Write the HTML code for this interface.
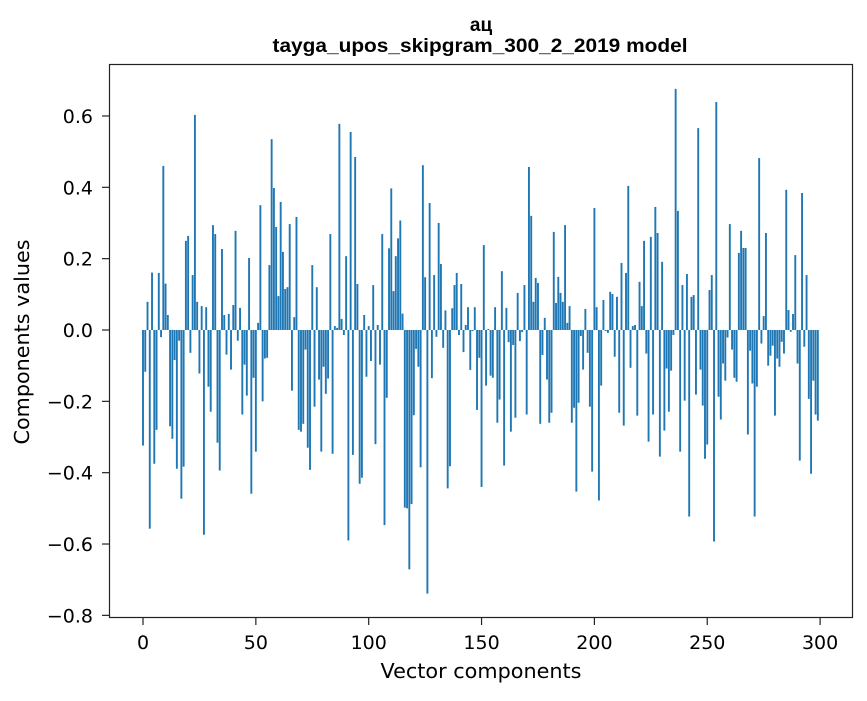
<!DOCTYPE html>
<html><head><meta charset="utf-8"><style>
body{margin:0;background:#fff;}
svg text{font-family:"DejaVu Sans","Liberation Sans",sans-serif;fill:#000;}
svg text.title{font-family:"Liberation Sans","Noto Sans CJK SC",sans-serif;}
</style></head><body>
<svg id="chart" width="867" height="696" xmlns="http://www.w3.org/2000/svg">
<rect width="867" height="696" fill="#fff"/>
<text class="title" x="481" y="31" text-anchor="middle" font-size="19" font-weight="bold">ац</text>
<text class="title" x="480" y="52" text-anchor="middle" font-size="19" font-weight="bold" textLength="415" lengthAdjust="spacingAndGlyphs">tayga_upos_skipgram_300_2_2019 model</text>
<g id="bars"></g>
<rect x="109.5" y="64.5" width="743" height="553" fill="none" stroke="#222" stroke-width="1.2"/>
<g id="xticks"></g>
<g id="yticks"></g>
<text x="481" y="678" text-anchor="middle" font-size="20.5" textLength="201" lengthAdjust="spacingAndGlyphs">Vector components</text>
<text transform="translate(29,342) rotate(-90)" text-anchor="middle" font-size="20.5" textLength="205" lengthAdjust="spacingAndGlyphs">Components values</text>
</svg>
<script>
const values = [
-0.324,-0.117,0.079,-0.557,0.161,-0.375,-0.28,0.16,-0.02,0.46,
0.13,0.042,-0.27,-0.305,-0.084,-0.389,-0.03,-0.473,-0.383,0.25,
0.264,-0.064,0.154,0.603,0.079,-0.122,0.067,-0.574,0.064,-0.159,
-0.229,0.294,0.269,-0.316,-0.394,0.227,0.042,-0.069,0.045,-0.111,
0.07,0.278,-0.03,0.062,-0.237,-0.097,-0.184,0.202,-0.459,-0.134,
-0.341,0.02,0.35,-0.2,-0.08,-0.078,0.182,0.535,0.398,0.289,
0.095,0.359,0.219,0.115,0.12,0.297,-0.17,0.036,0.317,-0.28,
-0.285,-0.263,-0.055,-0.33,-0.392,0.182,-0.215,0.12,-0.139,-0.341,
-0.103,-0.179,-0.136,0.269,-0.347,0.011,0.006,0.578,0.031,-0.014,
0.207,-0.59,0.555,-0.35,0.485,0.129,-0.431,-0.414,0.042,-0.131,
0.011,-0.087,0.126,-0.32,0.014,-0.097,0.269,-0.547,-0.19,0.229,
0.397,0.109,0.207,0.257,0.307,0.046,-0.498,-0.5,-0.671,-0.488,
-0.239,-0.053,-0.103,-0.385,0.462,0.148,-0.739,0.356,-0.135,0.154,
-0.019,0.3,0.185,-0.05,0.055,-0.444,-0.382,0.061,0.126,0.16,
-0.014,0.129,-0.062,0.014,0.064,-0.112,-0.003,0.064,-0.224,-0.078,
-0.44,0.238,-0.156,0.003,-0.128,-0.134,0.064,-0.26,-0.195,0.165,
-0.38,0.062,-0.034,-0.285,-0.042,-0.246,0.104,-0.031,-0.006,0.126,
-0.237,0.457,0.32,0.079,0.146,0.132,-0.263,-0.07,0.034,-0.139,
-0.26,-0.232,0.275,0.076,0.149,0.104,0.079,0.294,0.02,0.067,
-0.26,-0.218,-0.453,-0.204,-0.017,-0.111,0.059,-0.064,-0.215,-0.397,
0.342,0.064,-0.478,-0.156,0.084,-0.003,-0.008,0.107,0.101,-0.075,
0.093,-0.232,0.188,-0.268,0.16,0.404,-0.106,0.011,0.014,-0.24,
0.135,0.067,0.25,-0.066,-0.313,0.261,-0.237,0.345,0.272,-0.355,
0.191,-0.282,-0.108,-0.229,-0.114,-0.014,0.676,0.334,-0.341,0.126,
-0.198,0.157,-0.523,0.093,0.098,-0.181,0.566,-0.111,-0.212,-0.361,
-0.321,0.112,0.154,-0.593,0.639,-0.187,-0.251,-0.094,-0.142,-0.021,
0.297,-0.055,-0.134,-0.145,0.216,0.278,0.23,0.23,-0.293,-0.058,
-0.15,-0.523,-0.159,0.482,-0.038,0.039,0.272,-0.1,-0.072,-0.044,
-0.24,-0.08,-0.103,-0.033,-0.066,0.393,0.056,-0.005,0.045,0.21,
-0.094,-0.366,0.384,-0.047,0.154,-0.193,-0.403,-0.142,-0.237,-0.254
];
const xTicks = [0,50,100,150,200,250,300];
const yTicks = [-0.8,-0.6,-0.4,-0.2,0.0,0.2,0.4,0.6];
const yTickLabels = ["\u22120.8","\u22120.6","\u22120.4","\u22120.2","0.0","0.2","0.4","0.6"];

const NS="http://www.w3.org/2000/svg";
function xs(v){return 143 + v*2.257;}
function ys(v){return 330 - v*356.7;}
const bars=document.getElementById('bars');
values.forEach((v,i)=>{
  const r=document.createElementNS(NS,'rect');
  const y0=ys(0), y1=ys(v);
  r.setAttribute('x',xs(i-0.42));
  r.setAttribute('width',0.84*2.257);
  r.setAttribute('y',Math.min(y0,y1));
  r.setAttribute('height',Math.max(Math.abs(y1-y0),0.3));
  r.setAttribute('fill','#1f77b4');
  
  
  bars.appendChild(r);
});
const xg=document.getElementById('xticks');
xTicks.forEach(t=>{
  const l=document.createElementNS(NS,'line');
  l.setAttribute('x1',xs(t));l.setAttribute('x2',xs(t));
  l.setAttribute('y1',618);l.setAttribute('y2',625);
  l.setAttribute('stroke','#222');l.setAttribute('stroke-width','1.2');
  
  
  xg.appendChild(l);
  const tx=document.createElementNS(NS,'text');
  tx.setAttribute('x',xs(t));tx.setAttribute('y',649);
  tx.setAttribute('text-anchor','middle');tx.setAttribute('font-size','19');
  tx.textContent=t;
  
  
  xg.appendChild(tx);
});
const yg=document.getElementById('yticks');
yTicks.forEach((t,k)=>{
  const l=document.createElementNS(NS,'line');
  l.setAttribute('x1',102);l.setAttribute('x2',109);
  l.setAttribute('y1',ys(t));l.setAttribute('y2',ys(t));
  l.setAttribute('stroke','#222');l.setAttribute('stroke-width','1.2');
  
  
  yg.appendChild(l);
  const tx=document.createElementNS(NS,'text');
  tx.setAttribute('x',93);tx.setAttribute('y',ys(t)+7);
  tx.setAttribute('text-anchor','end');tx.setAttribute('font-size','19');
  tx.textContent=yTickLabels[k];
  
  
  yg.appendChild(tx);
});
</script>
</body></html>
